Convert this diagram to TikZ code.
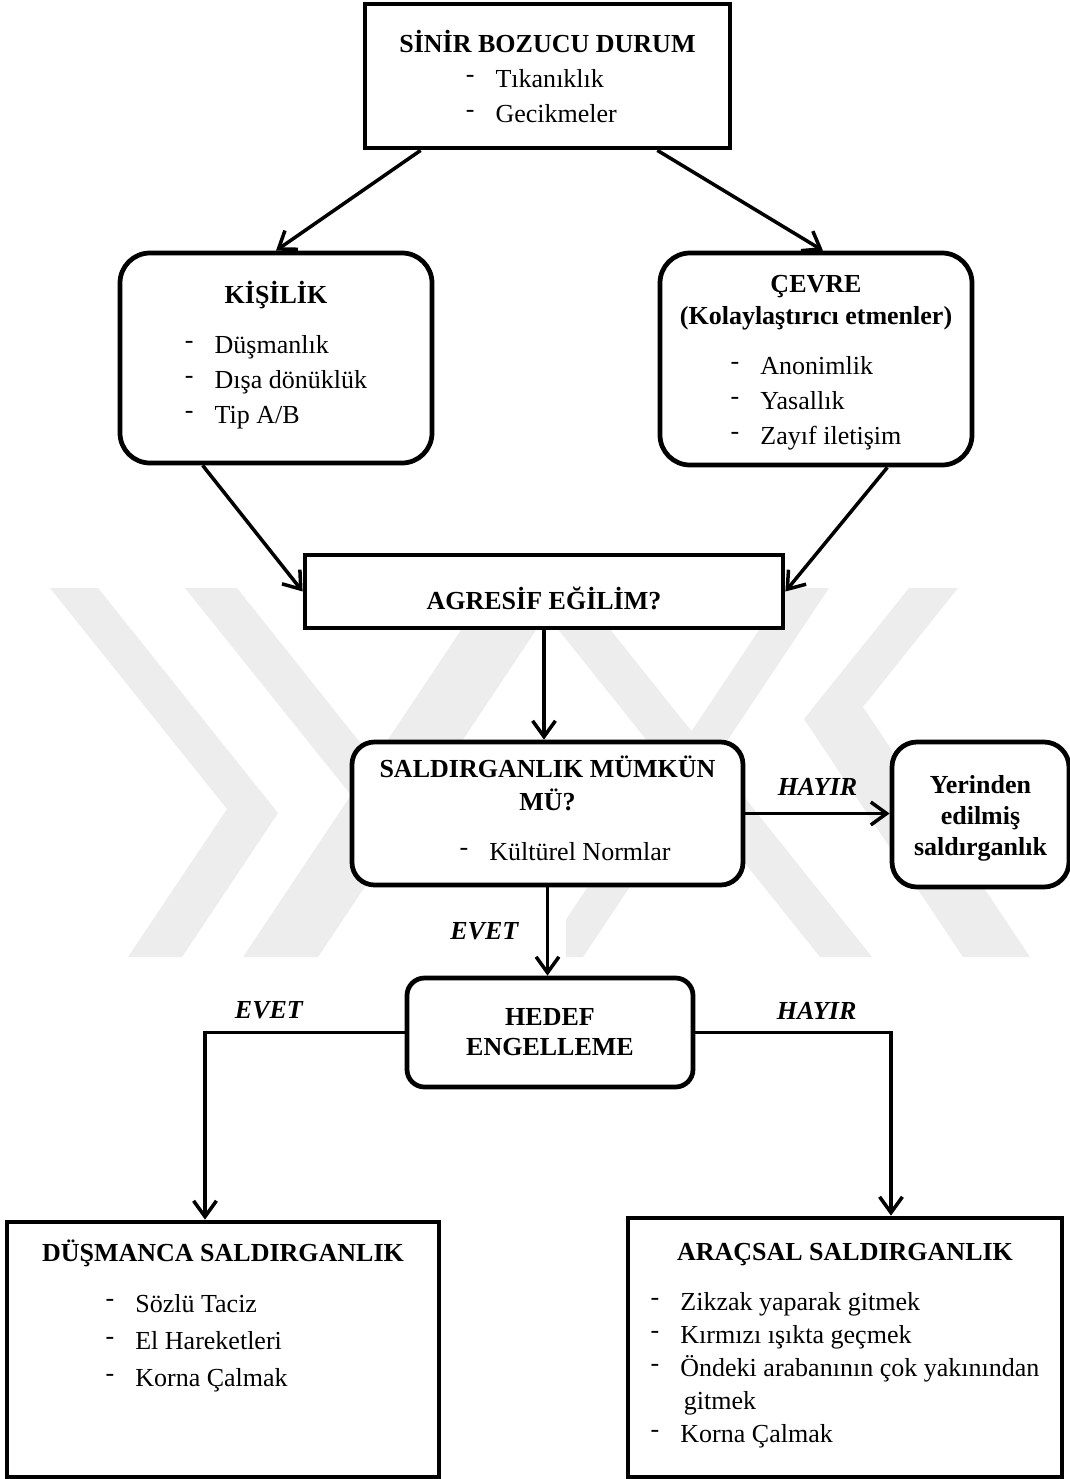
\documentclass[tikz,border=0pt]{standalone}
\usepackage{fontspec}
\usepackage{graphicx}
\setmainfont{Liberation Serif}
\usetikzlibrary{arrows.meta,positioning,calc}
\definecolor{filigran}{gray}{0.93}
\newcommand{\madde}{\raisebox{0.2em}{-}}

\begin{document}
\begin{tikzpicture}[>={Straight Barb[length=9pt,width=13pt]},
    kutu/.style={draw, line width=2.7pt, fill=white, align=center, inner sep=0pt,
      font=\fontsize{14.8}{19.9}\selectfont},
    yuvarlak/.style={kutu, rounded corners=#1},
    yuvarlak/.default=0.6cm,
    ok/.style={->, line width=2pt},
    etiket/.style={font=\fontsize{14.8}{17}\selectfont\bfseries\itshape, inner sep=2pt}]
  \path[use as bounding box, fill=white] (0,0) rectangle (21.4,-29.58);

  % filigran
  \fill[filigran] (1.0,-11.76) -- (1.96,-11.76) -- (5.56,-16.26) -- (3.64,-19.14) -- (2.56,-19.14) -- (4.54,-16.18) -- cycle;
  \fill[filigran] (3.7,-11.76) -- (4.74,-11.76) -- (7.48,-15.2) -- (7.02,-15.9) -- cycle;
  \fill[filigran] (9.78,-11.76) -- (11.28,-11.76) -- (6.36,-19.14) -- (4.86,-19.14) -- cycle;
  \fill[filigran] (10.5,-11.76) -- (11.54,-11.76) -- (17.44,-19.14) -- (16.4,-19.14) -- cycle;
  \fill[filigran] (15.74,-11.76) -- (16.58,-11.76) -- (11.66,-19.14) -- (10.82,-19.14) -- cycle;
  \fill[filigran] (18.18,-11.76) -- (19.16,-11.76) -- (17.26,-14.14) -- (20.6,-19.14) -- (19.26,-19.14) -- (16.08,-14.38) -- cycle;

  % kutular
  \node[kutu, minimum width=7.3cm, minimum height=2.88cm] (sinir) at (10.95,-1.52)
    {\rule{0pt}{19pt}\textbf{SİNİR BOZUCU DURUM}\\
     \begin{tabular}[t]{@{}l@{\hspace{12pt}}l@{\hspace{7pt}}}\madde & Tıkanıklık\\ \madde & Gecikmeler\end{tabular}};
  \node[yuvarlak, minimum width=6.24cm, minimum height=4.2cm] (kisilik) at (5.52,-7.16)
    {\textbf{KİŞİLİK}\\[8.6pt]
     \begin{tabular}[t]{@{}l@{\hspace{12pt}}l@{}}\madde & Düşmanlık\\ \madde & Dışa dönüklük\\ \madde & Tip A/B\end{tabular}};
  \node[yuvarlak, minimum width=6.24cm, minimum height=4.24cm] (cevre) at (16.32,-7.18)
    {\rule{0pt}{17pt}\textbf{ÇEVRE}\\[-1.7pt] \textbf{(Kolaylaştırıcı etmenler)}\\[8.6pt]
     \begin{tabular}[t]{@{}l@{\hspace{12pt}}l@{}}\madde & Anonimlik\\ \madde & Yasallık\\ \madde & Zayıf iletişim\end{tabular}};
  \node[kutu, minimum width=9.56cm, minimum height=1.46cm] (agresif) at (10.88,-11.83)
    {\rule{0pt}{20.5pt}\textbf{AGRESİF EĞİLİM?}};
  \node[yuvarlak=0.45cm, minimum width=7.82cm, minimum height=2.86cm] (mumkun) at (10.95,-16.27)
    {\textbf{SALDIRGANLIK MÜMKÜN}\\[-1.1pt] \textbf{MÜ?}\\[8.6pt]
     \hspace*{20pt}\begin{tabular}[t]{@{}l@{\hspace{12pt}}l@{}}\madde & Kültürel Normlar\end{tabular}};
  \node[yuvarlak=0.5cm, minimum width=3.54cm, minimum height=2.9cm,
    font=\fontsize{14.8}{17.6}\selectfont\bfseries] (yerinden) at (19.61,-16.29)
    {\rule{0pt}{14.6pt}Yerinden\\ edilmiş\\ saldırganlık};
  \node[yuvarlak=0.35cm, minimum width=5.72cm, minimum height=2.18cm,
    font=\fontsize{14.8}{17.1}\selectfont\bfseries] (hedef) at (11.0,-20.65)
    {HEDEF\\ ENGELLEME};
  \node[kutu, minimum width=8.64cm, minimum height=5.1cm] (dusmanca) at (4.46,-26.99)
    {\parbox[c][5.1cm][t]{8.64cm}{\centering\vspace*{10pt}
     \textbf{DÜŞMANCA SALDIRGANLIK}\\[9.1pt]
     {\renewcommand\arraystretch{1.06}%
     \begin{tabular}[t]{@{}l@{\hspace{12pt}}l@{\hspace{30pt}}}\madde & Sözlü Taciz\\ \madde & El Hareketleri\\ \madde & Korna Çalmak\end{tabular}}}};
  \node[kutu, minimum width=8.68cm, minimum height=5.18cm] (aracsal) at (16.9,-26.95)
    {\parbox[c][5.18cm][t]{8.68cm}{\centering\vspace*{14.4pt}
     \textbf{ARAÇSAL SALDIRGANLIK}\\[8.6pt]
     {\renewcommand\arraystretch{0.945}%
     \begin{tabular}[t]{@{}l@{\hspace{12pt}}l@{}}\madde & Zikzak yaparak gitmek\\ \madde & Kırmızı ışıkta geçmek\\
       \madde & Öndeki arabanının çok yakınından\\ & \hspace{2pt}gitmek\\ \madde & Korna Çalmak\end{tabular}}}};

  \node[etiket, fill=white, anchor=west, minimum height=1.06cm, text width=1.98cm,
    inner xsep=0.34cm, align=left] (evet1) at (8.66,-18.63) {EVET};

  % oklar
  \draw[ok] ([xshift=1.16cm]sinir.south west) -- (kisilik.north);
  \draw[ok] ([xshift=-1.5cm]sinir.south east) -- ([xshift=0.14cm]cevre.north);
  \draw[ok] ([xshift=1.7cm]kisilik.south west) -- (agresif.west);
  \draw[ok] ([xshift=-1.74cm]cevre.south east) -- (agresif.east);
  \draw[ok] (agresif.south) -- (agresif.south |- mumkun.north);
  \draw[ok] (mumkun.east) -- node[etiket, above=7pt] (hayir1) {HAYIR} (mumkun.east -| yerinden.west);
  \draw[ok] (mumkun.south) -- (mumkun.south |- hedef.north);
  \draw[ok] (hedef.west) -| node[etiket, pos=0.34, above=4.5pt] (evet2) {EVET} ([xshift=-0.36cm]dusmanca.north);
  \draw[ok] (hedef.east) -| node[etiket, pos=0.31, above=4.5pt] (hayir2) {HAYIR} ([xshift=0.92cm]aracsal.north);
\end{tikzpicture}
\end{document}
